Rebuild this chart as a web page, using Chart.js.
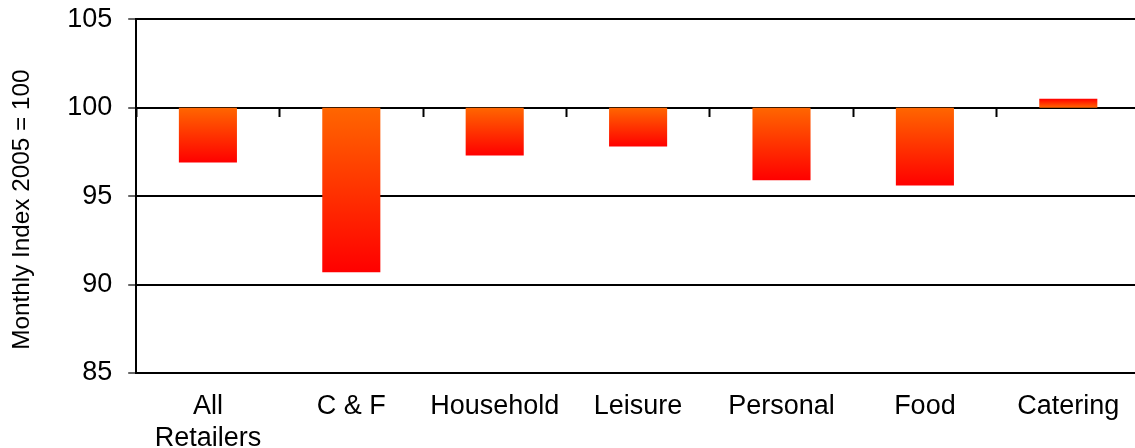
<!DOCTYPE html>
<html>
<head>
<meta charset="utf-8">
<script src="https://cdn.jsdelivr.net/npm/chart.js@4.4.0/dist/chart.umd.min.js"></script>
<style>
  html, body { margin: 0; padding: 0; background: #fff; overflow: hidden; }
  #wrap { width: 1140px; height: 448px; }
</style>
</head>
<body>
<div id="wrap"><canvas id="myChart"></canvas></div>
<script>
// categories and index values
const categories = [['All', 'Retailers'], 'C & F', 'Household', 'Leisure', 'Personal', 'Food', 'Catering'];
const indexValues = [96.9, 90.7, 97.3, 97.8, 95.9, 95.6, 100.5];
const baseLine = 100;
const yTicks = [85, 90, 95, 100, 105];

const font = "'Liberation Sans', Arial, sans-serif";

const data = {
    labels: categories,
    datasets: [{
        label: 'Monthly Index',
        data: indexValues.map(v => [baseLine, v]),
        categoryPercentage: 1,
        barPercentage: 0.405,
        borderWidth: 0,
        backgroundColor: ctx => {
            const chart = ctx.chart;
            if (!chart.chartArea || !ctx.raw) return '#ff3300';
            const y = chart.scales.y;
            const y0 = y.getPixelForValue(ctx.raw[0]);
            const y1 = y.getPixelForValue(ctx.raw[1]);
            if (Math.abs(y1 - y0) < 1) return '#ff3300';
            const g = chart.ctx.createLinearGradient(0, y0, 0, y1);
            g.addColorStop(0, '#ff6600');
            g.addColorStop(1, '#ff0000');
            return g;
        }
    }]
};

const config = {
    type: 'bar',
    data: data,
    options: {
        responsive: true,
        maintainAspectRatio: false,
        animation: false,
        layout: {
            padding: { top: 0, right: 0, bottom: 0, left: 0 }
        },
        plugins: {
            legend: { display: false },
            tooltip: { enabled: false }
        },
        scales: {
            x: {
                type: 'category',
                position: 'bottom',
                grid: { display: false, drawTicks: false },
                border: { display: false },
                afterFit: axis => { axis.height = 75; },
                ticks: {
                    color: '#000',
                    padding: 17,
                    maxRotation: 0,
                    autoSkip: false,
                    font: { family: font, size: 27, lineHeight: 1.2 }
                }
            },
            // the category axis crosses at 100, only its tick marks show
            x2: {
                type: 'category',
                labels: categories,
                offset: true,
                position: { y: baseLine },
                grid: {
                    display: true,
                    offset: true,
                    drawOnChartArea: false,
                    drawTicks: true,
                    tickLength: 8,
                    tickColor: '#000',
                    tickWidth: 2
                },
                border: { display: true, color: '#000', width: 2 },
                ticks: { display: false }
            },
            y: {
                type: 'linear',
                min: 85,
                max: 105,
                afterBuildTicks: axis => { axis.ticks = yTicks.map(v => ({ value: v })); },
                grid: {
                    color: '#000',
                    lineWidth: 2,
                    tickLength: 8,
                    tickColor: '#333',
                    tickWidth: 1.5
                },
                border: { display: true, color: '#000', width: 2 },
                ticks: {
                    color: '#000',
                    padding: 16,
                    font: { family: font, size: 27, lineHeight: 0.24 }
                },
                title: {
                    display: true,
                    // trailing spaces nudge the title a bit lower, as in the original
                    text: 'Monthly Index 2005 = 100    ',
                    color: '#000',
                    padding: { top: 8, bottom: 14 },
                    font: { family: font, size: 24.3 }
                }
            }
        }
    }
};

const myChart = new Chart(document.getElementById('myChart'), config);
</script>
</body>
</html>
